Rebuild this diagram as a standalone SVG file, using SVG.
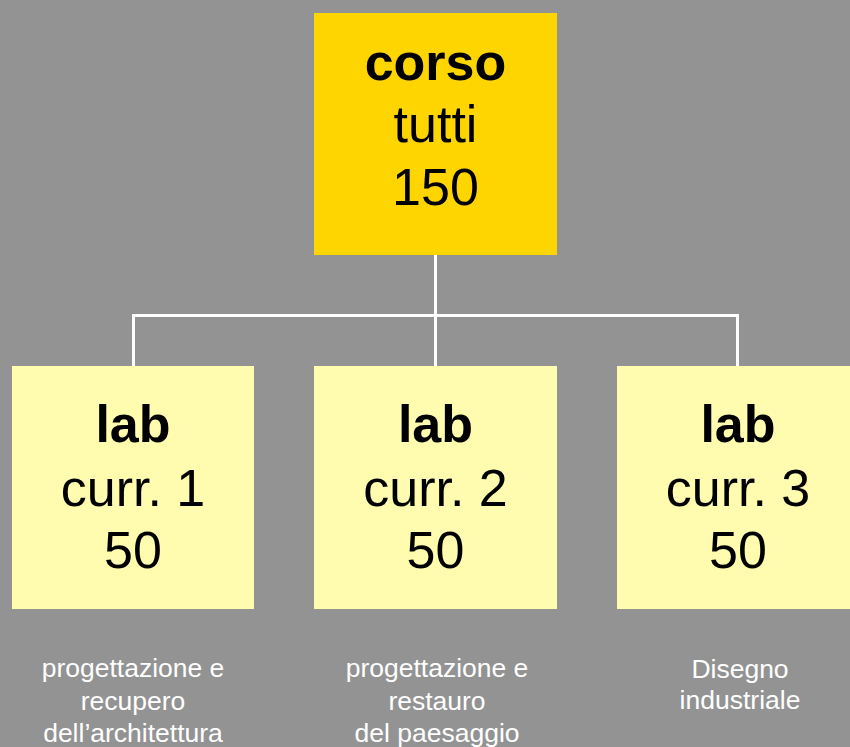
<svg xmlns="http://www.w3.org/2000/svg" width="850" height="747" viewBox="0 0 850 747">
<style>
.bg{fill:#939393}
.top{fill:#FFD500}
.lab{fill:#FFFCAF}
.t{font-family:"Liberation Sans",Arial,sans-serif;font-size:52px;fill:#000;text-anchor:middle}
.b{font-weight:bold}
.s{font-family:"Liberation Sans",Arial,sans-serif;font-size:26.5px;fill:#fff;text-anchor:middle}
.c{stroke:#fff;stroke-width:3;fill:none}
</style>
<rect class="bg" x="0" y="0" width="850" height="747"/>
<g id="connectors">
<path class="c" d="M435.5 255 V366"/>
<path class="c" d="M133.5 366 V315.5 H737.5 V366"/>
</g>
<g id="corso">
<rect class="top" x="314" y="13" width="243" height="242"/>
<text class="t b" x="435.5" y="80">corso</text>
<text class="t" x="435.5" y="142">tutti</text>
<text class="t" x="435.5" y="205">150</text>
</g>
<g id="lab1">
<rect class="lab" x="12" y="366" width="242" height="243"/>
<text class="t b" x="133" y="442">lab</text>
<text class="t" x="133" y="506">curr. 1</text>
<text class="t" x="133" y="568">50</text>
</g>
<g id="lab2">
<rect class="lab" x="314" y="366" width="243" height="243"/>
<text class="t b" x="435.5" y="442">lab</text>
<text class="t" x="435.5" y="506">curr. 2</text>
<text class="t" x="435.5" y="568">50</text>
</g>
<g id="lab3">
<rect class="lab" x="617" y="366" width="243" height="243"/>
<text class="t b" x="738" y="442">lab</text>
<text class="t" x="738" y="506">curr. 3</text>
<text class="t" x="738" y="568">50</text>
</g>
<g id="desc1">
<text class="s" x="133" y="677">progettazione e</text>
<text class="s" x="133" y="710">recupero</text>
<text class="s" x="133" y="742">dell’architettura</text>
</g>
<g id="desc2">
<text class="s" x="437" y="677">progettazione e</text>
<text class="s" x="437" y="710">restauro</text>
<text class="s" x="437" y="742">del paesaggio</text>
</g>
<g id="desc3">
<text class="s" x="740" y="678">Disegno</text>
<text class="s" x="740" y="709">industriale</text>
</g>
</svg>
